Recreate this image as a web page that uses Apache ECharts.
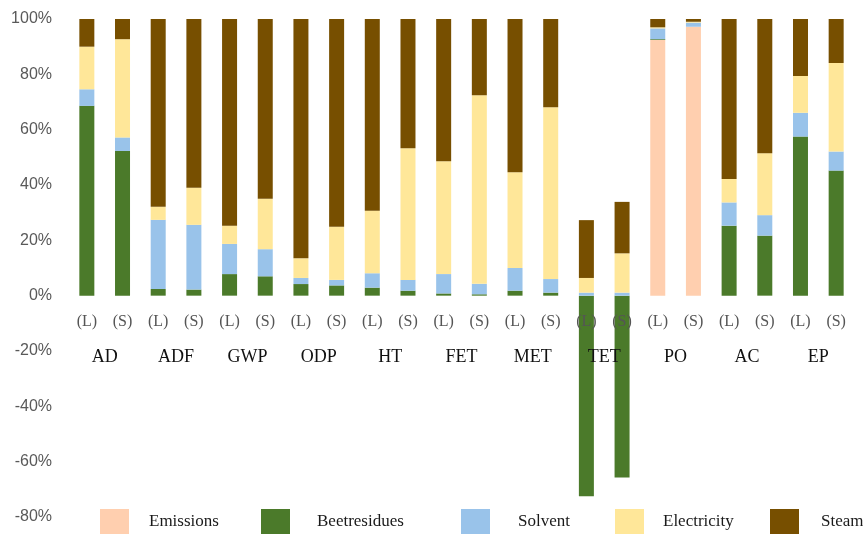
<!DOCTYPE html>
<html>
<head>
<meta charset="utf-8">
<script src="https://cdn.jsdelivr.net/npm/echarts@6/dist/echarts.min.js"></script>
<style>
  html, body { margin: 0; padding: 0; background: #fff; }
  #chart { width: 863px; height: 535px; }
</style>
</head>
<body>
<div id="chart"></div>
<script>
// Impact categories, each shown for two process variants
const groups = ['AD', 'ADF', 'GWP', 'ODP', 'HT', 'FET', 'MET', 'TET', 'PO', 'AC', 'EP'];
const variants = ['(L)', '(S)'];

// Contribution shares (%) in order AD(L), AD(S), ADF(L), ADF(S), ...
const emissions   = [0, 0, 0, 0, 0, 0, 0, 0, 0, 0, 0, 0, 0, 0, 0, 0, 92.4, 97.2, 0, 0, 0, 0];
const beetResidues = [68.6, 52.3, 2.4, 2.2, 7.8, 7.0, 4.2, 3.7, 2.9, 1.8, 0.8, 0.5, 1.8, 1.1, -72.5, -65.7, 0.3, 0, 25.3, 21.7, 57.5, 45.2];
const solvent     = [6.0, 4.9, 25.0, 23.4, 10.9, 9.8, 2.2, 2.0, 5.2, 3.9, 7.0, 3.8, 8.2, 4.9, 1.1, 1.1, 3.9, 1.5, 8.4, 7.4, 8.6, 6.9];
const electricity = [15.4, 35.5, 4.7, 13.4, 6.6, 18.2, 7.1, 19.2, 22.6, 47.6, 40.8, 68.1, 34.6, 62.1, 5.3, 14.2, 0.4, 0.3, 8.5, 22.4, 13.3, 32.0];
const steam       = [10.0, 7.3, 67.9, 61.0, 74.7, 65.0, 86.5, 75.1, 69.3, 46.7, 51.4, 27.6, 55.4, 31.9, 20.9, 18.6, 3.0, 1.0, 57.8, 48.5, 20.6, 15.9];

const yTicks = { min: -80, max: 100, step: 20 };

const seriesNames = ['Emissions', 'Beetresidues', 'Solvent', 'Electricity', 'Steam'];
const seriesData = [emissions, beetResidues, solvent, electricity, steam];
const colors = ['#FFCFAF', '#4B7A2A', '#99C3EA', '#FFE799', '#774F00'];

// one category per bar: "AD|(L)", "AD|(S)", ...
const barCategories = [];
groups.forEach(g => variants.forEach(v => barCategories.push(g + '|' + v)));

const serifFont = '"Liberation Serif", "DejaVu Serif", serif';

// legend item placement (left edge of each swatch) and swatch-to-text gap
const legendLeft = [95, 256, 456, 610, 765];
const legendGap = [15, 22, 23, 14, 17];

const chart = echarts.init(document.getElementById('chart'));

const xAxisBase = {
  type: 'category',
  position: 'bottom',
  z: 5,
  axisLine: { show: true, onZero: false, lineStyle: { color: 'rgba(0,0,0,0)', width: 0 } },
  axisTick: { show: false }
};

chart.setOption({
  animation: false,
  backgroundColor: '#ffffff',
  grid: { left: 69, right: 9, top: 19, bottom: 18, containLabel: false },
  legend: seriesNames.map((name, i) => ({
    data: [name],
    left: legendLeft[i],
    top: 504,
    icon: 'rect',
    itemWidth: 29,
    itemHeight: 25,
    selectedMode: false,
    textStyle: {
      fontFamily: serifFont,
      fontSize: 17,
      color: '#1a1a1a',
      padding: [0, 0, 0, legendGap[i]]
    }
  })),
  xAxis: [
    Object.assign({}, xAxisBase, {
      data: barCategories,
      axisLabel: {
        interval: 0,
        margin: 16,
        fontFamily: serifFont,
        fontSize: 16,
        color: '#555555',
        formatter: v => v.split('|')[1]
      }
    }),
    Object.assign({}, xAxisBase, {
      data: groups,
      axisLabel: {
        interval: 0,
        margin: 50,
        fontFamily: serifFont,
        fontSize: 18,
        color: '#111111'
      }
    })
  ],
  yAxis: {
    type: 'value',
    min: yTicks.min,
    max: yTicks.max,
    interval: yTicks.step,
    axisLine: { show: false },
    axisTick: { show: false },
    splitLine: { show: false },
    axisLabel: {
      margin: 17,
      fontFamily: '"Liberation Sans", Arial, sans-serif',
      fontSize: 16,
      color: '#595959',
      formatter: '{value}%'
    }
  },
  series: seriesNames.map((name, i) => ({
    name: name,
    type: 'bar',
    stack: 'share',
    xAxisIndex: 0,
    barWidth: 15,
    itemStyle: { color: colors[i] },
    data: seriesData[i]
  }))
});

// move both category axes up to just under the zero line of the value axis
const zeroY = chart.convertToPixel({ yAxisIndex: 0 }, 0);
const floorY = chart.convertToPixel({ yAxisIndex: 0 }, yTicks.min);
const labelLift = 20;
const shift = zeroY - floorY - labelLift;
chart.setOption({ xAxis: [{ offset: shift }, { offset: shift }] });
</script>
</body>
</html>
